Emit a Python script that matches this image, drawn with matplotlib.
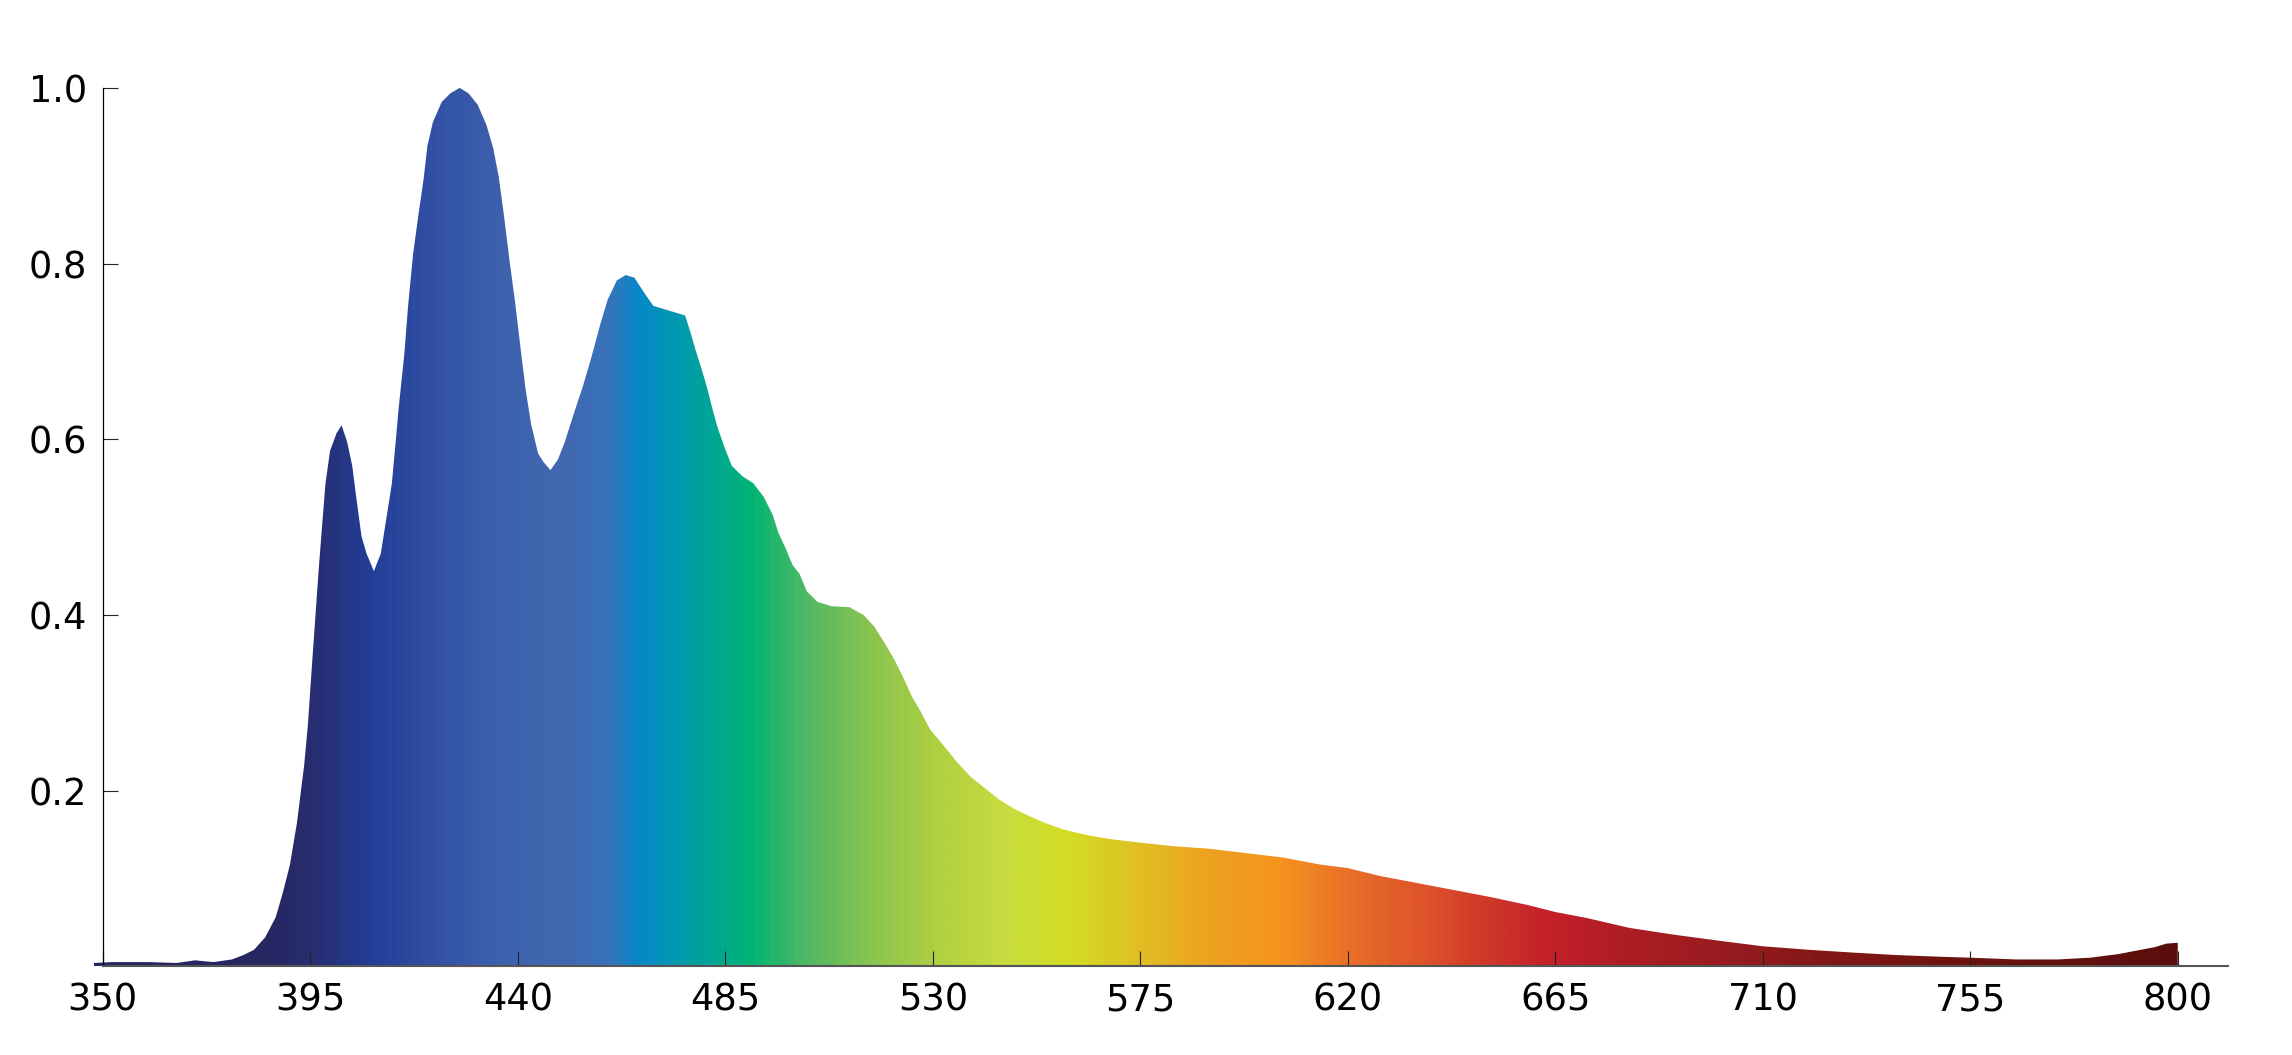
import matplotlib
matplotlib.use("Agg")
import matplotlib.pyplot as plt
import numpy as np
from matplotlib.colors import LinearSegmentedColormap
from matplotlib.patches import Polygon

# emission spectrum (wavelength in nm, relative intensity)
wavelength = [348, 352, 360, 366, 370, 374, 378, 380.5, 382.8, 385.2, 387.5, 389.0,
              390.6, 392.1, 393.7, 394.5, 395.2, 396.0, 396.8, 397.5, 398.3, 399.3,
              400.7, 401.8, 403.0, 404.1, 404.9, 406.1, 407.2, 408.8, 410.3, 411.5,
              412.7, 413.4, 414.2, 415.4, 416.2, 417.3, 418.5, 419.6, 420.4, 421.6,
              423.5, 425.4, 427.4, 429.3, 431.3, 433.2, 434.7, 435.9, 437.1, 438.2,
              439.4, 440.6, 441.7, 442.9, 444.4, 445.6, 447.1, 448.7, 450.2, 452.2,
              454.1, 456.0, 457.9, 459.5, 461.5, 463.4, 465.3, 467.4, 469.4, 472.5,
              476.3, 477.5, 478.6, 479.8, 481.0, 482.1, 483.3, 484.9, 486.4, 488.7,
              491.1, 493.4, 495.3, 496.5, 498.0, 499.6, 501.1, 502.7, 505.0, 508.1,
              511.9, 515.0, 517.3, 519.7, 521.6, 523.5, 525.5, 527.4, 529.4, 532.1,
              535.2, 538.2, 541.3, 544.4, 547.5, 550.6, 554.5, 558.3, 562.2, 566.1,
              570.0, 575, 582, 590, 598, 606, 614, 620, 627, 635, 643, 651, 659, 665,
              672, 681, 691, 701, 710, 720, 729, 739, 749, 755, 765, 774, 781, 787,
              792, 795, 797.5, 800]
intensity = [0.004, 0.005, 0.005, 0.004, 0.007, 0.005, 0.008, 0.013, 0.019, 0.033, 0.056, 0.083,
             0.116, 0.163, 0.230, 0.276, 0.330, 0.390, 0.450, 0.497, 0.550, 0.587,
             0.607, 0.616, 0.597, 0.570, 0.537, 0.490, 0.470, 0.450, 0.470, 0.510,
             0.550, 0.590, 0.637, 0.697, 0.751, 0.811, 0.857, 0.897, 0.934, 0.961,
             0.984, 0.994, 1.000, 0.994, 0.981, 0.958, 0.931, 0.898, 0.851, 0.804,
             0.757, 0.704, 0.657, 0.617, 0.584, 0.574, 0.565, 0.577, 0.597, 0.630,
             0.660, 0.694, 0.731, 0.759, 0.781, 0.787, 0.784, 0.767, 0.752, 0.747,
             0.741, 0.721, 0.701, 0.681, 0.660, 0.637, 0.614, 0.590, 0.570, 0.558,
             0.550, 0.534, 0.514, 0.494, 0.477, 0.457, 0.447, 0.427, 0.415, 0.410,
             0.409, 0.400, 0.387, 0.367, 0.350, 0.330, 0.307, 0.290, 0.270, 0.253,
             0.233, 0.216, 0.203, 0.190, 0.180, 0.172, 0.163, 0.156, 0.151, 0.147,
             0.144, 0.141, 0.137, 0.134, 0.129, 0.124, 0.116, 0.112, 0.103, 0.095, 0.087, 0.079, 0.070, 0.062,
             0.055, 0.044, 0.036, 0.029, 0.023, 0.019, 0.016, 0.013, 0.011, 0.010, 0.008, 0.008, 0.010, 0.014,
             0.019, 0.022, 0.026, 0.027]

x_ticks = [350, 395, 440, 485, 530, 575, 620, 665, 710, 755, 800]
y_ticks = [0.2, 0.4, 0.6, 0.8, 1.0]
y_tick_labels = ["0.2", "0.4", "0.6", "0.8", "1.0"]

# colour of the fill along the wavelength axis
color_stops = [(348, "#262660"), (385, "#262660"), (393, "#282c6c"), (407.5, "#223e98"),
               (422, "#3352a5"), (436, "#3e62ae"), (451, "#4169b1"), (459.5, "#3575bb"),
               (465.5, "#0788c8"), (474, "#0299b0"), (483, "#00a890"), (490, "#00b474"),
               (496, "#28b66a"), (502, "#50b864"), (516, "#88c450"), (531, "#b0d040"),
               (545, "#c8dc40"), (559.5, "#d4dc24"), (574, "#e0c024"), (591, "#eea020"),
               (605, "#f7941d"), (620, "#e87028"), (635, "#e0562a"), (649, "#d03a2a"),
               (664, "#c4202a"), (678, "#b01d26"), (700, "#9a1c20"), (722, "#841818"),
               (751, "#6e1410"), (800, "#5a0e0c")]

w0, w1 = wavelength[0], wavelength[-1]
cmap = LinearSegmentedColormap.from_list(
    "spec", [((w - w0) / (w1 - w0), c) for w, c in color_stops])

plt.rcParams['font.family'] = ['DejaVu Sans']
fig = plt.figure(figsize=(22.92, 10.55), dpi=100)
ax = fig.add_axes([0.0388, 0.0839, 0.9355, 0.8494])

ymax = 1.02
grad = np.linspace(0, 1, 1200)[np.newaxis, :]
im = ax.imshow(grad, extent=[w0, w1, 0, ymax], aspect='auto', cmap=cmap,
               interpolation='bilinear', zorder=1)

verts = list(zip(wavelength, intensity)) + [(w1, 0), (w0, 0)]
outline = Polygon(verts, closed=True, facecolor='none', edgecolor='none')
ax.add_patch(outline)
im.set_clip_path(outline)

ax.set_xlim(347, 812)
ax.set_ylim(0, ymax)

ax.spines['top'].set_visible(False)
ax.spines['right'].set_visible(False)
ax.spines['left'].set_position(('data', 350))
ax.spines['left'].set_bounds(0, 1.0)
ax.spines['left'].set_linewidth(0.9)
ax.spines['bottom'].set_bounds(350, 811)
ax.spines['bottom'].set_linewidth(1.5)
ax.spines['bottom'].set_color('#555555')
ax.spines['bottom'].set_zorder(3)

ax.set_xticks(x_ticks)
ax.set_xticklabels([str(t) for t in x_ticks])
ax.set_yticks(y_ticks)
ax.set_yticklabels(y_tick_labels)
ax.tick_params(direction='in', length=10.8, width=0.8, labelsize=26.5, pad=11,
               color='#222222', labelcolor='black')

fig.savefig("out.png", dpi=100)
